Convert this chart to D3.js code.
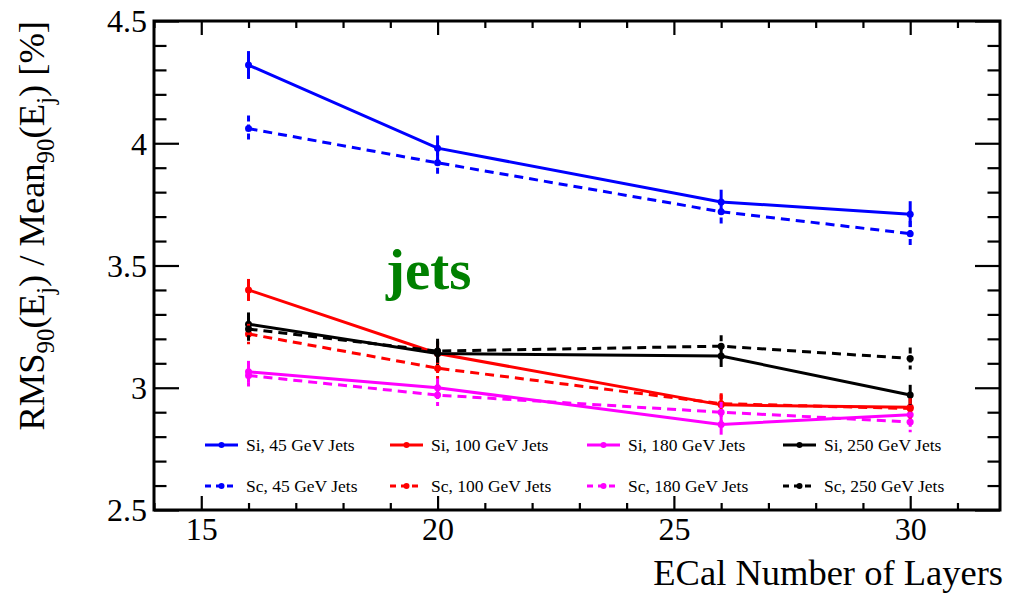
<!DOCTYPE html>
<html>
<head>
<meta charset="utf-8">
<script src="https://cdn.jsdelivr.net/npm/d3@7"></script>
<style>
  html, body { margin: 0; padding: 0; background: #fff; }
  svg { display: block; }
  text { font-family: "Liberation Serif", "Times New Roman", serif; }
</style>
</head>
<body>
<svg id="chart" width="1009" height="595"></svg>
<script>
// ECal layer count on the x axis
const layers = [16, 20, 26, 30];

// Jet energy resolution RMS90/Mean90 [%] for silicon (Si) and scintillator (Sc) ECal
const si45  = [4.32, 3.98, 3.76, 3.71];
const sc45  = [4.06, 3.92, 3.72, 3.63];
const si100 = [3.40, 3.14, 2.93, 2.92];
const sc100 = [3.22, 3.08, 2.935, 2.915];
const si180 = [3.065, 3.00, 2.85, 2.89];
const sc180 = [3.05, 2.97, 2.90, 2.86];
const si250 = [3.26, 3.14, 3.13, 2.97];
const sc250 = [3.24, 3.15, 3.17, 3.12];

// Statistical uncertainties
const errSi45  = [0.057, 0.052, 0.050, 0.053];
const errSc45  = [0.053, 0.053, 0.050, 0.052];
const errSi100 = [0.045, 0.045, 0.042, 0.042];
const errSc100 = [0.042, 0.042, 0.042, 0.042];
const errSi180 = [0.045, 0.045, 0.042, 0.042];
const errSc180 = [0.045, 0.045, 0.042, 0.042];
const errSi250 = [0.048, 0.050, 0.045, 0.042];
const errSc250 = [0.048, 0.050, 0.045, 0.045];

// Axis ticks
const yMajorTicks = [2.5, 3, 3.5, 4, 4.5];
const xMajorTicks = [15, 20, 25, 30];

const series = [
  { name: "Si, 45 GeV Jets",  values: si45,  errors: errSi45,  color: "#0000ff", dashed: false },
  { name: "Si, 100 GeV Jets", values: si100, errors: errSi100, color: "#ff0000", dashed: false },
  { name: "Si, 180 GeV Jets", values: si180, errors: errSi180, color: "#ff00ff", dashed: false },
  { name: "Si, 250 GeV Jets", values: si250, errors: errSi250, color: "#000000", dashed: false },
  { name: "Sc, 45 GeV Jets",  values: sc45,  errors: errSc45,  color: "#0000ff", dashed: true },
  { name: "Sc, 100 GeV Jets", values: sc100, errors: errSc100, color: "#ff0000", dashed: true },
  { name: "Sc, 180 GeV Jets", values: sc180, errors: errSc180, color: "#ff00ff", dashed: true },
  { name: "Sc, 250 GeV Jets", values: sc250, errors: errSc250, color: "#000000", dashed: true }
];

const svg = d3.select("#chart");
const frame = { left: 154, right: 1000, top: 21, bottom: 510 };

const x = d3.scaleLinear().domain([14, 31.9]).range([frame.left, frame.right]);
const y = d3.scaleLinear().domain([2.5, 4.5]).range([frame.bottom, frame.top]);

const xMinor = d3.range(14, 32, 1).filter(v => !xMajorTicks.includes(v));
const yMinor = d3.range(25, 46, 1).map(v => v / 10).filter(v => !yMajorTicks.includes(v));

const axisLayer = svg.append("g");
const serif = "'Liberation Serif', 'Times New Roman', serif";

function styleAxis(g) {
  g.select(".domain").remove();
  g.attr("font-family", serif);
  g.selectAll(".tick line").attr("stroke", "#000").attr("stroke-width", 2.2);
}

// Left axis: labels and inward ticks
axisLayer.append("g")
  .attr("transform", `translate(${frame.left},0)`)
  .call(d3.axisLeft(y).tickValues(yMajorTicks).tickSize(-25).tickPadding(8).tickFormat(d3.format("")))
  .call(styleAxis)
  .call(g => g.selectAll(".tick text").attr("font-size", 32).attr("fill", "#000")
    .attr("font-family", serif).attr("dy", "0.34em").attr("x", -7));
axisLayer.append("g")
  .attr("transform", `translate(${frame.left},0)`)
  .call(d3.axisLeft(y).tickValues(yMinor).tickSize(-12.5).tickFormat(""))
  .call(styleAxis);

// Right axis ticks
axisLayer.append("g")
  .attr("transform", `translate(${frame.right},0)`)
  .call(d3.axisRight(y).tickValues(yMajorTicks).tickSize(-25).tickFormat(""))
  .call(styleAxis);
axisLayer.append("g")
  .attr("transform", `translate(${frame.right},0)`)
  .call(d3.axisRight(y).tickValues(yMinor).tickSize(-12.5).tickFormat(""))
  .call(styleAxis);

// Bottom axis
axisLayer.append("g")
  .attr("transform", `translate(0,${frame.bottom})`)
  .call(d3.axisBottom(x).tickValues(xMajorTicks).tickSize(-14).tickPadding(0).tickFormat(d3.format("")))
  .call(styleAxis)
  .call(g => g.selectAll(".tick text").attr("font-size", 32).attr("fill", "#000")
    .attr("font-family", serif).attr("y", 30).attr("dy", 0));
axisLayer.append("g")
  .attr("transform", `translate(0,${frame.bottom})`)
  .call(d3.axisBottom(x).tickValues(xMinor).tickSize(-7).tickFormat(""))
  .call(styleAxis);

// Top axis ticks
axisLayer.append("g")
  .attr("transform", `translate(0,${frame.top})`)
  .call(d3.axisTop(x).tickValues(xMajorTicks).tickSize(-14).tickFormat(""))
  .call(styleAxis);
axisLayer.append("g")
  .attr("transform", `translate(0,${frame.top})`)
  .call(d3.axisTop(x).tickValues(xMinor).tickSize(-7).tickFormat(""))
  .call(styleAxis);

// Frame
svg.append("rect")
  .attr("x", frame.left).attr("y", frame.top)
  .attr("width", frame.right - frame.left).attr("height", frame.bottom - frame.top)
  .attr("fill", "none").attr("stroke", "#000").attr("stroke-width", 3);

// Data: lines, error bars, markers
const dash = "9,6";
const line = d3.line().x(d => x(d.l)).y(d => y(d.v));
const plot = svg.append("g");

series.forEach(s => {
  const pts = layers.map((l, i) => ({ l, v: s.values[i], e: s.errors[i] }));
  const g = plot.append("g");
  g.append("path")
    .datum(pts)
    .attr("d", line)
    .attr("fill", "none")
    .attr("stroke", s.color)
    .attr("stroke-width", 3)
    .attr("stroke-dasharray", s.dashed ? dash : null);
  g.selectAll("line.err")
    .data(pts)
    .join("line")
    .attr("class", "err")
    .attr("x1", d => x(d.l)).attr("x2", d => x(d.l))
    .attr("y1", d => y(d.v + d.e)).attr("y2", d => y(d.v - d.e))
    .attr("stroke", s.color)
    .attr("stroke-width", 3)
    .attr("stroke-dasharray", s.dashed ? "6,3" : null);
  g.selectAll("circle")
    .data(pts)
    .join("circle")
    .attr("cx", d => x(d.l)).attr("cy", d => y(d.v))
    .attr("r", 3.5)
    .attr("fill", s.color);
});

// Legend: four columns, two rows
const legendCols = [205, 390, 587, 783];
const legendRows = [445, 486];
const legend = svg.append("g");
series.forEach((s, i) => {
  const cx = legendCols[i % 4];
  const cy = legendRows[Math.floor(i / 4)];
  const g = legend.append("g").attr("transform", `translate(${cx},${cy})`);
  g.append("line")
    .attr("x1", 0).attr("x2", 33).attr("y1", 0).attr("y2", 0)
    .attr("stroke", s.color).attr("stroke-width", 3)
    .attr("stroke-dasharray", s.dashed ? "6,5" : null);
  g.append("circle").attr("cx", 16.5).attr("cy", 0).attr("r", 3).attr("fill", s.color);
  g.append("text")
    .attr("x", 41).attr("y", 6)
    .attr("font-size", 17.5)
    .attr("fill", "#000")
    .text(s.name);
});

// "jets" label
svg.append("text")
  .attr("x", 386).attr("y", 289)
  .attr("font-size", 57)
  .attr("font-weight", "bold")
  .attr("fill", "#008000")
  .text("jets");

// X axis title, right-aligned at the end of the axis
svg.append("text")
  .attr("x", 1003).attr("y", 585)
  .attr("text-anchor", "end")
  .attr("font-size", 36.5)
  .attr("fill", "#000")
  .text("ECal Number of Layers");

// Y axis title with subscripts, aligned to the top of the axis
const yTitle = svg.append("text")
  .attr("transform", "translate(44,21) rotate(-90)")
  .attr("text-anchor", "end")
  .attr("font-size", 36.5)
  .attr("fill", "#000");
const parts = [
  ["RMS", 0], ["90", 1], ["(E", 0], ["j", 1], [") / Mean", 0], ["90", 1], ["(E", 0], ["j", 1], [") [%]", 0]
];
let prevSub = false;
parts.forEach(([t, sub]) => {
  const ts = yTitle.append("tspan").text(t);
  if (sub && !prevSub) ts.attr("dy", 10).attr("font-size", 25);
  else if (!sub && prevSub) ts.attr("dy", -10);
  prevSub = !!sub;
});
</script>
</body>
</html>
